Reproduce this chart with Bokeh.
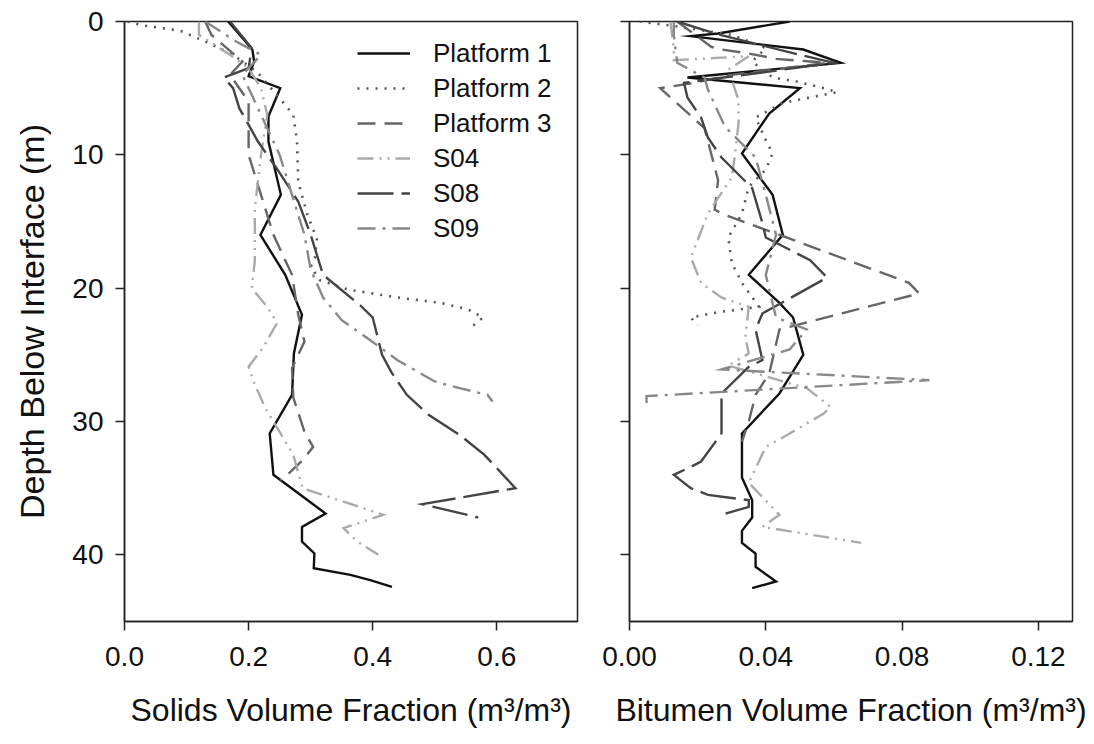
from bokeh.plotting import figure
from bokeh.layouts import row
from bokeh.models import Range1d, FixedTicker, NumeralTickFormatter, Legend, LegendItem
from bokeh.embed import file_html
from bokeh.resources import INLINE

FONT = "Liberation Sans"

series_names = ["Platform 1", "Platform 2", "Platform 3", "S04", "S08", "S09"]

# ---- Solids volume fraction (left panel) ----
p1_sol_depth = [0, 2.1, 3.0, 4.1, 5.0, 7.1, 9.0, 13.0, 16.0, 19.0, 22.0, 24.9, 28.0, 30.9, 34.0, 36.9, 37.9, 39.0, 39.9, 41.0, 41.5, 41.9, 42.4]
p1_sol_val = [0.167, 0.206, 0.209, 0.200, 0.251, 0.232, 0.232, 0.252, 0.219, 0.259, 0.286, 0.273, 0.270, 0.234, 0.240, 0.324, 0.286, 0.286, 0.306, 0.305, 0.364, 0.396, 0.431]

p2_sol_depth = [0, 0.3, 0.7, 1.5, 2.5, 3.8, 5.8, 7.0, 9.0, 12.0, 14.4, 16.3, 17.7, 18.4, 19.4, 20.1, 20.7, 21.1, 21.6, 22.2, 22.8]
p2_sol_val = [0.005, 0.03, 0.09, 0.13, 0.175, 0.214, 0.251, 0.272, 0.278, 0.280, 0.294, 0.310, 0.307, 0.300, 0.315, 0.360, 0.440, 0.509, 0.554, 0.578, 0.562]

p3_sol_depth = [0, 1.0, 3.0, 4.0, 6.0, 10.0, 13.0, 16.0, 19.0, 22.0, 24.0, 26.0, 28.2, 30.9, 31.9, 32.9, 33.8, 34.4]
p3_sol_val = [0.13, 0.14, 0.19, 0.17, 0.20, 0.20, 0.22, 0.24, 0.27, 0.28, 0.29, 0.27, 0.272, 0.291, 0.304, 0.287, 0.267, 0.251]

s04_sol_depth = [0, 1.0, 2.5, 3.5, 5.0, 7.0, 10.0, 14.0, 18.0, 20.0, 21.4, 22.6, 24.4, 25.9, 27.0, 29.0, 32.5, 35.0, 37.0, 38.0, 39.0, 40.0]
s04_sol_val = [0.12, 0.12, 0.17, 0.20, 0.22, 0.23, 0.22, 0.21, 0.21, 0.205, 0.23, 0.246, 0.224, 0.20, 0.208, 0.227, 0.272, 0.287, 0.417, 0.353, 0.375, 0.409]

s08_sol_depth = [0, 2.0, 3.5, 4.2, 5.0, 6.5, 9.0, 11.0, 13.5, 16.0, 19.0, 21.3, 22.2, 25.0, 26.3, 28.0, 29.5, 31.0, 32.5, 34.0, 35.0, 36.2, 37.2]
s08_sol_val = [0.17, 0.205, 0.20, 0.16, 0.175, 0.185, 0.215, 0.245, 0.28, 0.30, 0.32, 0.38, 0.40, 0.415, 0.43, 0.455, 0.49, 0.54, 0.58, 0.61, 0.63, 0.48, 0.57]

s09_sol_depth = [0, 1.5, 2.5, 4.0, 6.0, 8.0, 10.0, 13.0, 16.0, 18.6, 20.7, 22.4, 23.7, 25.4, 27.0, 27.5, 28.0, 28.5]
s09_sol_val = [0.13, 0.18, 0.22, 0.19, 0.21, 0.23, 0.25, 0.27, 0.29, 0.30, 0.32, 0.35, 0.39, 0.44, 0.50, 0.54, 0.585, 0.593]

# ---- Bitumen volume fraction (right panel) ----
p1_bit_depth = [0, 0.9, 1.1, 2.1, 3.1, 4.2, 5.0, 6.9, 9.9, 13.0, 16.0, 19.0, 21.1, 22.2, 25.0, 27.9, 30.9, 34.2, 35.9, 37.2, 38.2, 39.1, 39.9, 40.9, 42.0, 42.5]
p1_bit_val = [0.047, 0.026, 0.018, 0.051, 0.062, 0.017, 0.050, 0.041, 0.033, 0.042, 0.045, 0.035, 0.044, 0.048, 0.051, 0.044, 0.033, 0.033, 0.036, 0.036, 0.033, 0.033, 0.037, 0.037, 0.043, 0.036]

p2_bit_depth = [0, 0.3, 1.0, 2.0, 3.0, 4.2, 4.5, 5.0, 5.3, 5.7, 6.1, 7.2, 8.9, 9.9, 11.1, 12.4, 14.4, 16.2, 18.1, 19.6, 21.4, 21.8, 22.2, 22.8]
p2_bit_val = [0.003, 0.012, 0.030, 0.040, 0.036, 0.042, 0.049, 0.057, 0.061, 0.053, 0.045, 0.037, 0.040, 0.042, 0.040, 0.035, 0.033, 0.029, 0.030, 0.033, 0.038, 0.026, 0.018, 0.020]

p3_bit_depth = [0, 1.9, 2.1, 2.4, 2.8, 3.0, 3.1, 4.0, 4.6, 5.0, 8.0, 11.9, 14.1, 14.4, 19.6, 20.4, 22.9, 23.1, 26.4, 28.0, 30.0, 31.5]
p3_bit_val = [0.014, 0.024, 0.027, 0.035, 0.043, 0.053, 0.058, 0.030, 0.019, 0.009, 0.022, 0.026, 0.025, 0.027, 0.082, 0.085, 0.047, 0.044, 0.041, 0.037, 0.035, 0.033]

s04_bit_depth = [0, 2.0, 2.9, 2.6, 3.6, 5.9, 7.6, 9.9, 11.7, 14.4, 16.4, 17.7, 19.6, 20.7, 21.4, 23.7, 24.9, 25.8, 27.5, 28.9, 29.4, 31.2, 31.9, 34.6, 37.0, 37.9, 39.1]
s04_bit_val = [0.012, 0.013, 0.013, 0.035, 0.029, 0.032, 0.032, 0.031, 0.030, 0.023, 0.020, 0.018, 0.021, 0.027, 0.035, 0.034, 0.035, 0.029, 0.052, 0.059, 0.057, 0.045, 0.040, 0.035, 0.044, 0.039, 0.068]

s08_bit_depth = [0, 0.9, 2.5, 3.1, 4.6, 5.7, 7.2, 8.7, 10.2, 12.5, 15.1, 16.2, 17.9, 19.2, 21.9, 23.1, 25.4, 25.9, 27.9, 29.9, 30.9, 33.0, 33.4, 34.0, 35.0, 35.5, 35.9, 36.4, 37.0]
s08_bit_val = [0.014, 0.025, 0.050, 0.060, 0.016, 0.017, 0.021, 0.023, 0.027, 0.036, 0.039, 0.040, 0.053, 0.058, 0.039, 0.037, 0.039, 0.035, 0.027, 0.027, 0.027, 0.021, 0.018, 0.013, 0.018, 0.023, 0.035, 0.035, 0.027]

s09_bit_depth = [0, 1.0, 3.1, 4.2, 5.1, 7.9, 8.4, 10.2, 13.0, 16.0, 19.0, 22.2, 23.1, 24.6, 26.1, 26.9, 28.1, 29.0]
s09_bit_val = [0.013, 0.013, 0.014, 0.022, 0.023, 0.028, 0.030, 0.037, 0.040, 0.043, 0.040, 0.043, 0.052, 0.047, 0.027, 0.088, 0.005, 0.005]

depth_ticks = [0, 10, 20, 30, 40]
solids_ticks = [0.0, 0.2, 0.4, 0.6]
bitumen_ticks = [0.00, 0.04, 0.08, 0.12]

styles = {
    "Platform 1": dict(line_color="#111111", line_dash="solid", line_width=2.4),
    "Platform 2": dict(line_color="#555555", line_dash="2 7", line_width=2.6),
    "Platform 3": dict(line_color="#666666", line_dash="18 9", line_width=2.4),
    "S04": dict(line_color="#aaaaaa", line_dash="16 6 2 6 2 6", line_width=2.4),
    "S08": dict(line_color="#444444", line_dash="36 8", line_width=2.4),
    "S09": dict(line_color="#888888", line_dash="18 7 3 7", line_width=2.4),
}

solids = [(p1_sol_val, p1_sol_depth), (p2_sol_val, p2_sol_depth), (p3_sol_val, p3_sol_depth),
          (s04_sol_val, s04_sol_depth), (s08_sol_val, s08_sol_depth), (s09_sol_val, s09_sol_depth)]
bitumen = [(p1_bit_val, p1_bit_depth), (p2_bit_val, p2_bit_depth), (p3_bit_val, p3_bit_depth),
           (s04_bit_val, s04_bit_depth), (s08_bit_val, s08_bit_depth), (s09_bit_val, s09_bit_depth)]

AX = "#222222"


def style_axes(p, xticks, xfmt, xlabel, show_y):
    p.xgrid.visible = False
    p.ygrid.visible = False
    p.outline_line_color = AX
    p.outline_line_width = 1.5
    for ax in (p.xaxis[0], p.yaxis[0]):
        ax.axis_line_color = AX
        ax.axis_line_width = 1.5
        ax.major_tick_line_color = AX
        ax.major_tick_line_width = 1.5
        ax.major_tick_out = 9
        ax.major_tick_in = 0
        ax.minor_tick_line_color = None
        ax.major_label_text_font = FONT
        ax.major_label_text_font_size = "28px"
        ax.major_label_text_color = "#111111"
        ax.axis_label_text_font = FONT
        ax.axis_label_text_font_style = "normal"
        ax.axis_label_text_color = "#111111"
    p.xaxis.ticker = FixedTicker(ticks=xticks)
    p.xaxis.formatter = NumeralTickFormatter(format=xfmt)
    p.xaxis.major_label_standoff = 16
    p.xaxis.axis_label = xlabel
    p.xaxis.axis_label_text_font_size = "32px"
    p.xaxis.axis_label_standoff = 23
    p.yaxis.ticker = FixedTicker(ticks=depth_ticks)
    if show_y:
        p.yaxis.major_label_standoff = 12
        p.yaxis.axis_label = "Depth Below Interface (m)"
        p.yaxis.axis_label_text_font_size = "34px"
        p.yaxis.axis_label_standoff = 18
    else:
        # ticks only, labels not drawn
        p.yaxis.major_label_text_color = None
        p.yaxis.major_label_text_font_size = "1px"
        p.yaxis.major_label_standoff = 0


p1 = figure(width=600, height=744, output_backend="svg", toolbar_location=None,
            x_range=Range1d(0, 0.73), y_range=Range1d(45, 0),
            min_border_left=124, min_border_right=23, min_border_top=21, min_border_bottom=123)
p2 = figure(width=494, height=744, output_backend="svg", toolbar_location=None,
            x_range=Range1d(0, 0.13), y_range=Range1d(45, 0),
            min_border_left=29, min_border_right=22, min_border_top=21, min_border_bottom=123)

items = []
for name, (xv, yv) in zip(series_names, solids):
    r = p1.line(xv, yv, line_cap="butt", line_join="miter", **styles[name])
    items.append(LegendItem(label=name, renderers=[r]))
for name, (xv, yv) in zip(series_names, bitumen):
    p2.line(xv, yv, line_cap="butt", line_join="miter", **styles[name])

style_axes(p1, solids_ticks, "0.0", "Solids Volume Fraction (m³/m³)", True)
style_axes(p2, bitumen_ticks, "0.00", "Bitumen Volume Fraction (m³/m³)", False)

legend = Legend(items=items, location=(233, 376), padding=0, margin=0, spacing=1,
                glyph_width=53, glyph_height=34, label_height=34, label_standoff=23,
                label_text_font=FONT, label_text_font_size="26px", label_text_color="#111111",
                border_line_color=None, background_fill_alpha=0)
p1.add_layout(legend, "center")

layout = row(p1, p2)
open("out.html", "w").write(file_html(layout, INLINE))
